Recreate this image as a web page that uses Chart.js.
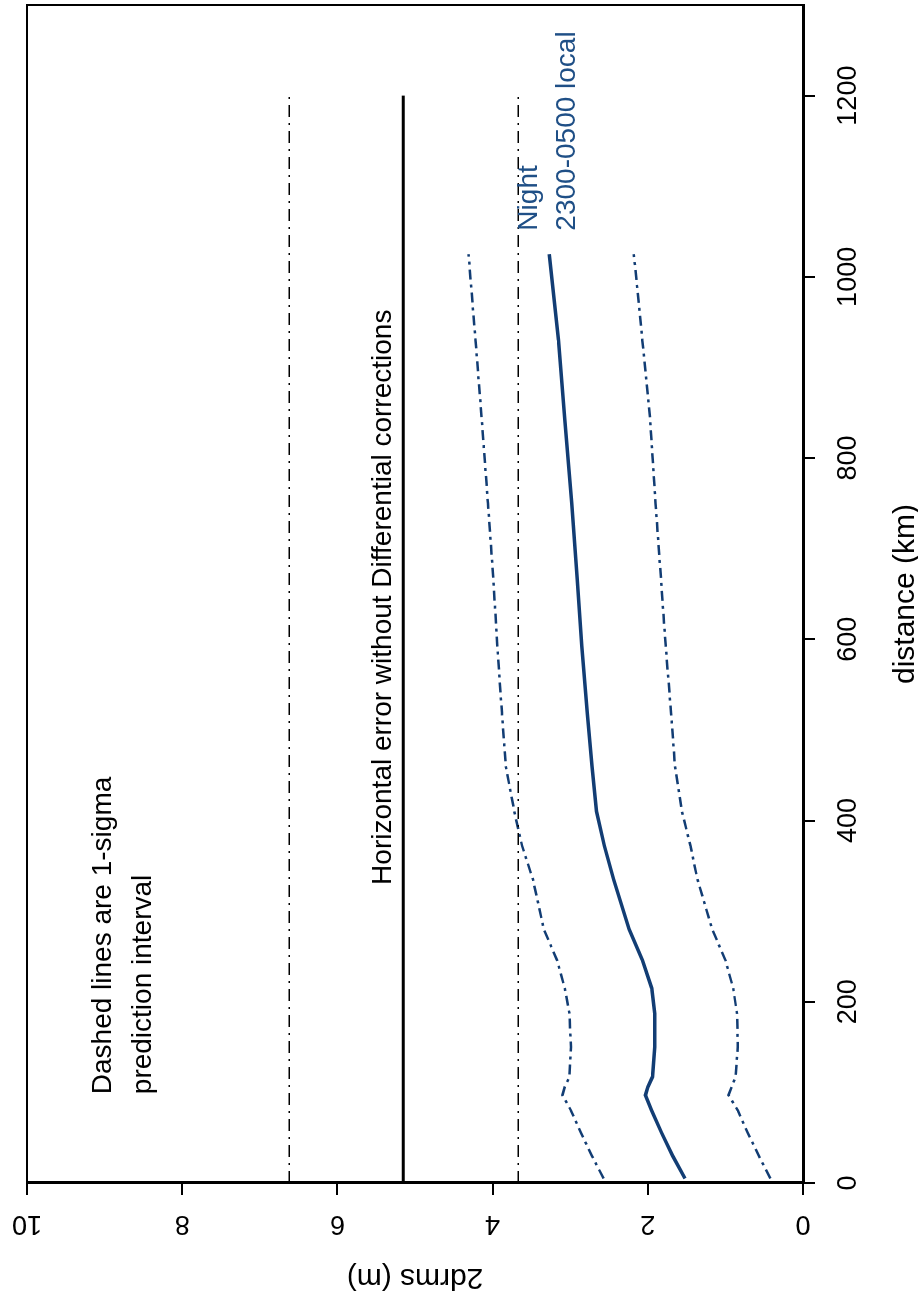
<!DOCTYPE html>
<html>
<head>
<meta charset="utf-8">
<title>2drms vs distance</title>
<script src="https://cdn.jsdelivr.net/npm/chart.js@4.4.0/dist/chart.umd.min.js"></script>
<style>
  html, body { margin: 0; padding: 0; background: #fff; overflow: hidden; }
  body { width: 918px; height: 1297px; position: relative; }
  /* chart is drawn landscape, then turned a quarter turn counter-clockwise */
  #wrap { position: absolute; left: 0; top: 0; width: 1297px; height: 918px;
          transform-origin: 0 0; transform: translate(0, 1297px) rotate(-90deg); }
</style>
</head>
<body>
<div id="wrap"><canvas id="chart" width="1297" height="918"></canvas></div>
<script>
// distance (km) where the curves were read
const distanceKm = [5, 30, 55, 80, 97, 106, 117, 150, 187, 215, 246, 280, 335, 372, 410, 460, 519, 593, 666, 750, 843, 930, 1025];
// night 2drms (m)
const nightMean  = [1.52, 1.68, 1.82, 1.95, 2.03, 2.00, 1.94, 1.91, 1.91, 1.95, 2.07, 2.24, 2.44, 2.56, 2.66, 2.72, 2.78, 2.85, 2.91, 2.98, 3.07, 3.15, 3.27];
const nightUpper = [2.57, 2.72, 2.86, 2.99, 3.10, 3.07, 3.01, 2.99, 3.01, 3.07, 3.17, 3.34, 3.48, 3.62, 3.72, 3.83, 3.88, 3.94, 3.99, 4.06, 4.14, 4.22, 4.31];
const nightLower = [0.42, 0.57, 0.71, 0.84, 0.96, 0.92, 0.87, 0.84, 0.85, 0.90, 1.00, 1.17, 1.36, 1.45, 1.56, 1.65, 1.70, 1.77, 1.83, 1.90, 1.97, 2.07, 2.18];

// horizontal error without differential corrections
const refDistance = [0, 1200];
const noDiffMean  = 5.15;
const noDiffUpper = 6.62;
const noDiffLower = 3.67;

const xTicks = [0, 200, 400, 600, 800, 1000, 1200];
const yTicks = [0, 2, 4, 6, 8, 10];

const notes = [
  { text: 'Dashed lines are 1-sigma', x: 98, y: 9.02, color: '#000' },
  { text: 'prediction interval', x: 98, y: 8.50, color: '#000' },
  { text: 'Horizontal error without Differential corrections', x: 329, y: 5.41, color: '#000' },
  { text: 'Night', x: 1051, y: 3.53, color: '#1f4f86' },
  { text: '2300-0500 local', x: 1051, y: 3.04, color: '#1f4f86' }
];

const FONT = "'Liberation Sans', Arial, sans-serif";
const BLUE = '#123d74';
const DASHDOT = [12, 6, 2, 6];

function pts(xs, ys) {
  return xs.map((x, i) => ({ x: x, y: ys[i] }));
}
function flat(level) {
  return refDistance.map(d => ({ x: d, y: level }));
}

// y tick labels run along the axis, so they are drawn here
const yLabels = {
  id: 'yLabels',
  afterDraw(chart) {
    const { ctx, scales: { y } } = chart;
    ctx.save();
    ctx.font = '27px ' + FONT;
    ctx.fillStyle = '#000';
    ctx.textAlign = 'center';
    ctx.textBaseline = 'middle';
    yTicks.forEach(v => {
      ctx.save();
      ctx.translate(74, y.getPixelForValue(v));
      ctx.rotate(-Math.PI / 2);
      ctx.fillText(String(v), 0, 0);
      ctx.restore();
    });
    ctx.restore();
  }
};

const boxAndNotes = {
  id: 'boxAndNotes',
  afterDatasetsDraw(chart) {
    const { ctx, chartArea: a, scales: { x, y } } = chart;
    ctx.save();
    ctx.strokeStyle = '#000';
    ctx.lineWidth = 2;
    ctx.strokeRect(a.left, a.top, a.right - a.left, a.bottom - a.top);
    ctx.textAlign = 'left';
    ctx.textBaseline = 'middle';
    ctx.font = '28px ' + FONT;
    notes.forEach(n => {
      ctx.fillStyle = n.color;
      ctx.fillText(n.text, x.getPixelForValue(n.x), y.getPixelForValue(n.y));
    });
    ctx.restore();
  }
};

new Chart(document.getElementById('chart'), {
  type: 'scatter',
  data: {
    datasets: [
      { label: 'no diff', data: flat(noDiffMean), showLine: true, borderColor: '#000', borderWidth: 3, pointRadius: 0 },
      { label: 'no diff upper', data: flat(noDiffUpper), showLine: true, borderColor: '#000', borderWidth: 1.5, borderDash: DASHDOT, pointRadius: 0 },
      { label: 'no diff lower', data: flat(noDiffLower), showLine: true, borderColor: '#000', borderWidth: 1.5, borderDash: DASHDOT, pointRadius: 0 },
      { label: 'night', data: pts(distanceKm, nightMean), showLine: true, borderColor: BLUE, borderWidth: 3.5, pointRadius: 0 },
      { label: 'night upper', data: pts(distanceKm, nightUpper), showLine: true, borderColor: BLUE, borderWidth: 2.5, borderDash: [10, 5, 3, 5], pointRadius: 0 },
      { label: 'night lower', data: pts(distanceKm, nightLower), showLine: true, borderColor: BLUE, borderWidth: 2.5, borderDash: [10, 5, 3, 5], pointRadius: 0 }
    ]
  },
  options: {
    responsive: false,
    animation: false,
    devicePixelRatio: 1,
    layout: { padding: { top: 27, right: 5, left: 0, bottom: 0 } },
    plugins: { legend: { display: false }, tooltip: { enabled: false } },
    scales: {
      x: {
        type: 'linear', min: 0, max: 1300,
        afterBuildTicks: s => { s.ticks = xTicks.map(v => ({ value: v })); },
        afterFit: s => { s.height = 115; },
        grid: { drawOnChartArea: false, drawTicks: true, tickLength: 12, color: '#000', lineWidth: 2 },
        border: { display: true, color: '#000', width: 3 },
        ticks: { color: '#000', font: { family: FONT, size: 27 }, padding: 17, maxRotation: 0, callback: v => String(v) },
        title: { display: true, text: 'distance (km)', color: '#000', font: { family: FONT, size: 30, lineHeight: 0.85 }, padding: 0 }
      },
      y: {
        type: 'linear', min: 0, max: 10,
        afterBuildTicks: s => { s.ticks = yTicks.map(v => ({ value: v })); },
        afterFit: s => { s.width = 114; },
        grid: { drawOnChartArea: false, drawTicks: true, tickLength: 12, color: '#000', lineWidth: 2 },
        border: { display: true, color: '#000', width: 3 },
        ticks: { display: false },
        title: { display: true, text: '2drms (m)', color: '#000', font: { family: FONT, size: 30, lineHeight: 0.85 }, padding: { top: 7 } }
      }
    }
  },
  plugins: [yLabels, boxAndNotes]
});
</script>
</body>
</html>
